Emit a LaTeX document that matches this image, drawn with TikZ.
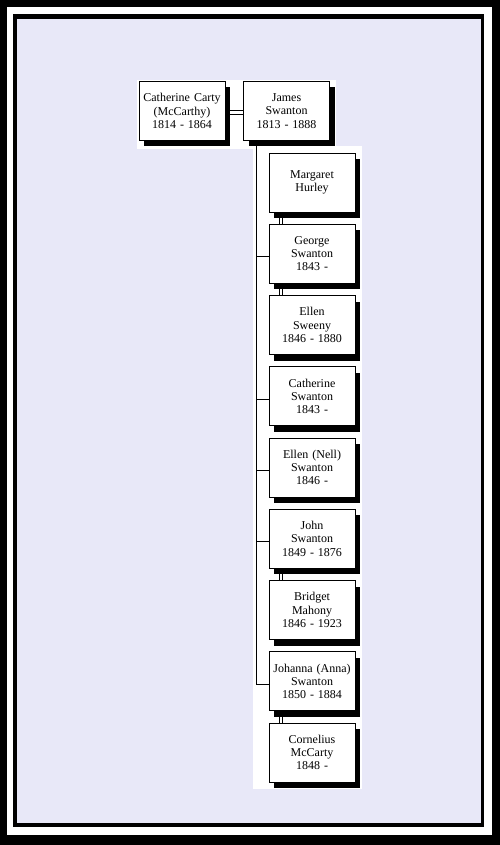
\documentclass[tikz,border=0pt]{standalone}
\usepackage{fontspec}
\setmainfont{Liberation Serif}
\usepackage{tikz}
\usetikzlibrary{positioning,shadows,backgrounds}
\definecolor{lavender}{RGB}{232,232,248}
\tikzstyle{person} = [rectangle, minimum width=86pt, minimum height=59pt, text width=82pt, inner sep=2pt, draw=black, line width=0.8pt, fill=white, text centered, font=\fontsize{12}{13.3}\selectfont, drop shadow={shadow xshift=5pt, shadow yshift=-6pt, fill=black, opacity=1}]
\tikzstyle{spouse} = [draw=black, line width=1pt, double=white, double distance=2.6pt]
\tikzstyle{descent} = [draw=black, line width=0.8pt]

\begin{document}
\begin{tikzpicture}[x=1pt,y=-1pt]
\useasboundingbox (0,0) rectangle (500,845);
\node (catherine) [person] at (182,111) {Catherine Carty\\(McCarthy)\\1814 - 1864};
\node (james) [person, on grid, right=104.5pt of catherine] {James\\Swanton\\1813 - 1888};
\node (margaret) [person] at (312,182.5) {Margaret\\Hurley};
\begin{scope}[node distance=71.25pt, on grid]
\node (george) [person, below=of margaret] {George\\Swanton\\1843 -};
\node (sweeny) [person, below=of george] {Ellen\\Sweeny\\1846 - 1880};
\node (cathy) [person, below=of sweeny] {Catherine\\Swanton\\1843 -};
\node (nell) [person, below=of cathy] {Ellen (Nell)\\Swanton\\1846 -};
\node (john) [person, below=of nell] {John\\Swanton\\1849 - 1876};
\node (bridget) [person, below=of john] {Bridget\\Mahony\\1846 - 1923};
\node (johanna) [person, below=of bridget] {Johanna (Anna)\\Swanton\\1850 - 1884};
\node (cornelius) [person, below=of johanna] {Cornelius\\McCarty\\1848 -};
\end{scope}
% frame and white panels
\begin{scope}[on background layer]
\fill[black] (0,0) rectangle (500,845);
\fill[white] (7,7) rectangle (492,835);
\fill[black] (13,14) rectangle (484,827);
\fill[lavender] (17,19) rectangle (481,823);
\fill[white] (137,80) rectangle (336,149);
\fill[white] (253,146) rectangle (362,789);
\end{scope}
% connectors
\begin{scope}[on background layer]
\draw[spouse] ([yshift=-1.5pt]catherine.east) -- ([yshift=-1.5pt]james.west);
\draw[spouse] ([xshift=12.5pt]margaret.south west) -- ([xshift=12.5pt]george.north west);
\draw[spouse] ([xshift=12.5pt]george.south west) -- ([xshift=12.5pt]sweeny.north west);
\draw[spouse] ([xshift=12.5pt]john.south west) -- ([xshift=12.5pt]bridget.north west);
\draw[spouse] ([xshift=12.5pt]johanna.south west) -- ([xshift=12.5pt]cornelius.north west);
\coordinate (trunk) at ([xshift=13pt]james.south west);
\draw[descent] (trunk) |- ([yshift=-3pt]george.west);
\draw[descent] (trunk) |- ([yshift=-3pt]cathy.west);
\draw[descent] (trunk) |- ([yshift=-3pt]nell.west);
\draw[descent] (trunk) |- ([yshift=-3pt]john.west);
\draw[descent] (trunk) |- ([yshift=-3pt]johanna.west);
\end{scope}
\end{tikzpicture}
\end{document}
